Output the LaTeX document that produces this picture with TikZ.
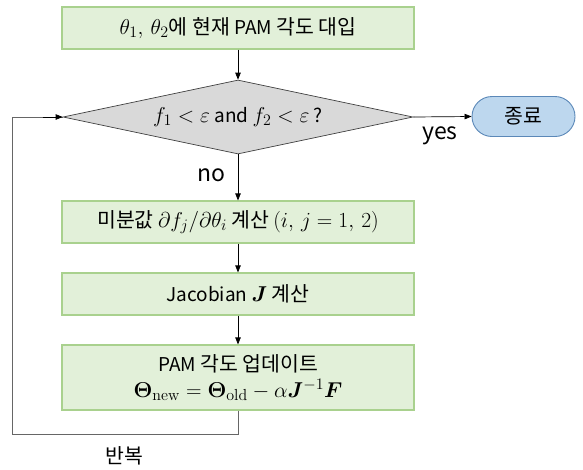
\RequirePackage{fix-cm}
\documentclass[tikz,border=0pt]{standalone}
\usepackage{amsmath}
\usepackage{bm}
\usepackage[no-math]{fontspec}
\setmainfont{Noto Sans CJK KR}
\usetikzlibrary{shapes.geometric,shapes.misc,arrows.meta}
\DeclareMathSizes{19}{21.5}{16}{12}
\newcommand\ko[1]{{\fontsize{20.5}{24}\selectfont #1}}
\definecolor{procfill}{HTML}{E2F0D9}
\definecolor{procline}{HTML}{A9D18E}
\definecolor{decfill}{HTML}{D9D9D9}
\definecolor{decline}{HTML}{404040}
\definecolor{endfill}{HTML}{BDD7EE}
\definecolor{endline}{HTML}{5B88B8}
\tikzset{
  x=1pt, y=1pt,
  every node/.style={font=\fontsize{19}{23}\selectfont},
  procbox/.style={draw=procline, fill=procfill, line width=1.2pt,
    minimum width=352pt, inner sep=0pt, align=center},
  decision/.style={diamond, draw=decline, fill=decfill, line width=0.7pt,
    minimum width=350pt, minimum height=74pt, inner sep=0pt, aspect=4.7},
  terminal/.style={rounded rectangle, draw=endline, fill=endfill, line width=0.9pt,
    minimum width=103pt, minimum height=40pt, inner sep=0pt},
  flow/.style={-{Triangle[length=7pt,width=5.5pt]}, line width=0.7pt, black},
  loopline/.style={line width=0.9pt, black!60},
  lbl/.style={inner sep=0pt, font=\fontsize{23}{26}\selectfont}
}
\begin{document}
\begin{tikzpicture}
  \useasboundingbox (0,0) rectangle (583,-469);

  % process chain
  \node[procbox, minimum height=42pt] (init) at (238,-28)
    {$\theta_1,\,\theta_2$\ko{에 현재} PAM \ko{각도 대입}};
  \node[decision] (check) at (238,-117)
    {$f_1<\varepsilon$ and $f_2<\varepsilon$ ?};
  \node[terminal] (stop) at (523.5,-116.5) {\ko{종료}};
  \node[procbox, minimum height=42pt] (deriv) at (238,-222)
    {\ko{미분값} $\partial f_j/\partial\theta_i$ \ko{계산} $(i,\,j=1,\,2)$};
  \node[procbox, minimum height=42pt] (jac) at (238,-294)
    {Jacobian $\bm{J}$ \ko{계산}};
  \node[procbox, minimum height=65pt] (upd) at (238,-377.5)
    {PAM \ko{각도 업데이트}\\[3pt]
     $\bm{\Theta}_{\mathrm{new}}=\bm{\Theta}_{\mathrm{old}}-\alpha\bm{J}^{-1}\bm{F}$};

  % connectors
  \draw[flow] (init) -- (check);
  \draw[flow] (check.east) -- (stop.west);
  \draw[flow] (check.south) -- (deriv.north);
  \draw[flow] (deriv) -- (jac);
  \draw[flow] (jac) -- (upd);

  % return loop
  \coordinate (loopcorner) at (12,-434);
  \draw[loopline] (upd.south) |- (loopcorner) |- (check.west);
  \draw[flow] ([xshift=-20pt]check.west) -- (check.west);

  % labels
  \node[lbl] (yes) at (440,-136) {yes};
  \node[lbl] (no) at (211.5,-175) {no};
  \node[lbl] (rep) at (124.5,-456) {\ko{반복}};
\end{tikzpicture}
\end{document}
